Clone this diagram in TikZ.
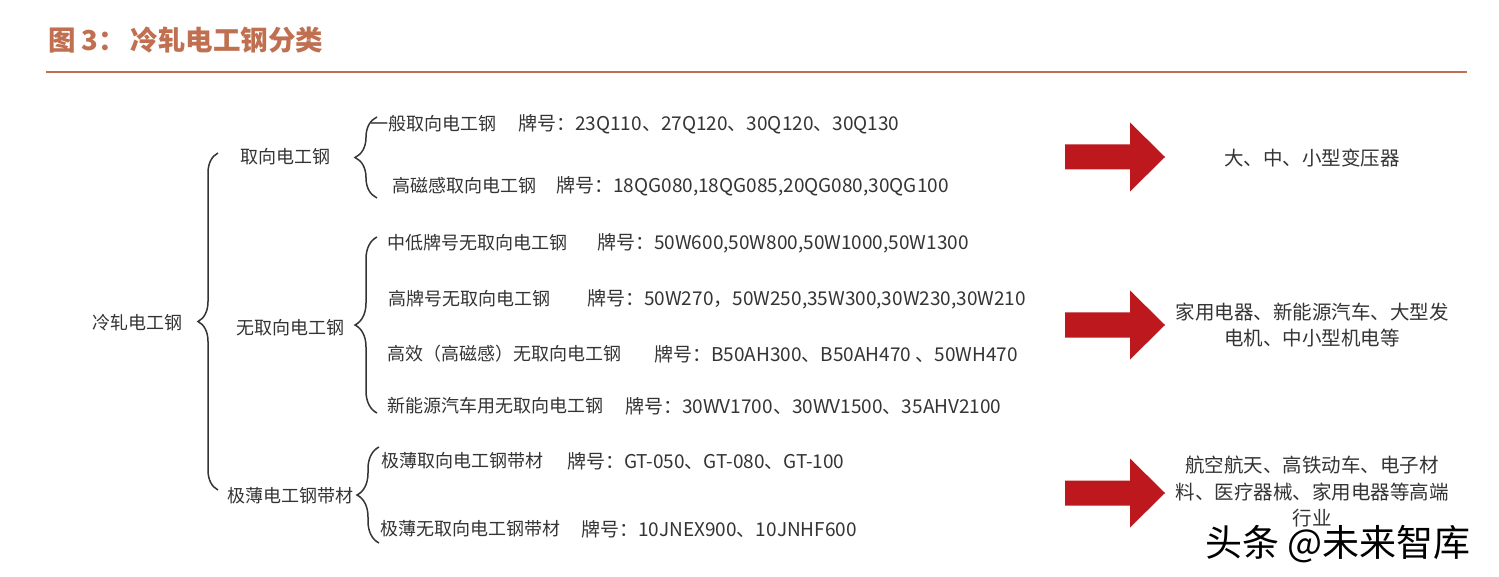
\documentclass[tikz,border=0pt]{standalone}
\usepackage{fontspec}
\setmainfont{Noto Sans CJK SC}
\usetikzlibrary{decorations.pathreplacing}

\definecolor{titlebrown}{RGB}{192,112,80}
\definecolor{arrowred}{RGB}{188,24,30}
\definecolor{inkgray}{RGB}{52,52,52}

\begin{document}
\begin{tikzpicture}[x=1pt,y=-1pt,inner sep=0pt,text=inkgray]
    \tikzstyle{base}=[font=\fontsize{18}{22}\selectfont,anchor=west]
    \tikzstyle{root}=[base]
    \tikzstyle{cat}=[base]
    \tikzstyle{leaf}=[base]
    \tikzstyle{grade}=[base,font=\fontsize{19}{22}\selectfont]
    \tikzstyle{usage}=[font=\fontsize{19.5}{26.5}\selectfont,align=center]
    \tikzstyle{brace}=[draw=inkgray,line width=1.5pt,decorate,decoration={brace,amplitude=22pt}]
    \tikzset{redarrow/.pic={\fill[arrowred] (-49,-12.5) -- (16,-12.5) -- (16,-34.5) -- (51,0)
        -- (16,34.5) -- (16,12.5) -- (-49,12.5) -- cycle;}}

    \useasboundingbox[fill=white] (0,0) rectangle (1499,577);

    % Title and rule
    \node[anchor=west,text=titlebrown,font=\fontsize{27.5}{31}\selectfont\bfseries] (title) at (48,40) {图 3：\,冷轧电工钢分类};
    \coordinate (rule-l) at (46,72);
    \coordinate (rule-r) at (1467,72);
    \draw[titlebrown,line width=2pt] (rule-l) -- (rule-r);

    % Root and categories
    \node[root] (root) at (92,323) {冷轧电工钢};
    \node[cat] (C-1) at (240,157) {取向电工钢};
    \node[cat] (C-2) at (236,328) {无取向电工钢};
    \node[cat] (C-3) at (227,496) {极薄电工钢带材};

    % Steel types and grades
    \node[leaf] (L-1) at (370,124) {一般取向电工钢};
    \node[grade] (G-1) at (518,124) {牌号：23Q110、27Q120、30Q120、30Q130};
    \node[leaf] (L-2) at (392,186) {高磁感取向电工钢};
    \node[grade] (G-2) at (556,186) {牌号：18QG080,18QG085,20QG080,30QG100};
    \node[leaf] (L-3) at (387,243) {中低牌号无取向电工钢};
    \node[grade] (G-3) at (597,243) {牌号：50W600,50W800,50W1000,50W1300};
    \node[leaf] (L-4) at (388,299) {高牌号无取向电工钢};
    \node[grade] (G-4) at (587,299) {牌号：50W270，50W250,35W300,30W230,30W210};
    \node[leaf] (L-5) at (387,354) {高效（高磁感）无取向电工钢};
    \node[grade] (G-5) at (654,354) {牌号：B50AH300、B50AH470 、50WH470};
    \node[leaf] (L-6) at (387,406) {新能源汽车用无取向电工钢};
    \node[grade] (G-6) at (625,406) {牌号：30WV1700、30WV1500、35AHV2100};
    \node[leaf] (L-7) at (381,461) {极薄取向电工钢带材};
    \node[grade] (G-7) at (567,461) {牌号：GT-050、GT-080、GT-100};
    \node[leaf] (L-8) at (380,529) {极薄无取向电工钢带材};
    \node[grade] (G-8) at (581,529) {牌号：10JNEX900、10JNHF600};

    % Braces
    \coordinate (B0-b) at (218,490); \coordinate (B0-t) at (218,153);
    \coordinate (B1-b) at (377,198); \coordinate (B1-t) at (377,117);
    \coordinate (B2-b) at (377,413); \coordinate (B2-t) at (377,237);
    \coordinate (B3-b) at (379,543); \coordinate (B3-t) at (379,447);
    \draw[brace,decoration={amplitude=20pt}] (B0-b) -- (B0-t);
    \foreach \name in {1,2,3}
        \draw[brace] (B\name-b) -- (B\name-t);

    % Arrows and usages
    \foreach \name / \y in {1/157,2/325,3/493}
        \path (1114,\y) pic {redarrow};
    \node[usage] (U-1) at (1312,158) {大、中、小型变压器};
    \node[usage] (U-2) at (1312,325) {家用电器、新能源汽车、大型发\\电机、中小型机电等};
    \node[usage,anchor=north] (U-3) at (1312,456) {航空航天、高铁动车、电子材\\料、医疗器械、家用电器等高端\\行业};

    % Watermark
    \node[anchor=west,text=black,font=\fontsize{37}{40}\selectfont] (mark) at (1205,544) {头条 @未来智库};
\end{tikzpicture}
\end{document}
